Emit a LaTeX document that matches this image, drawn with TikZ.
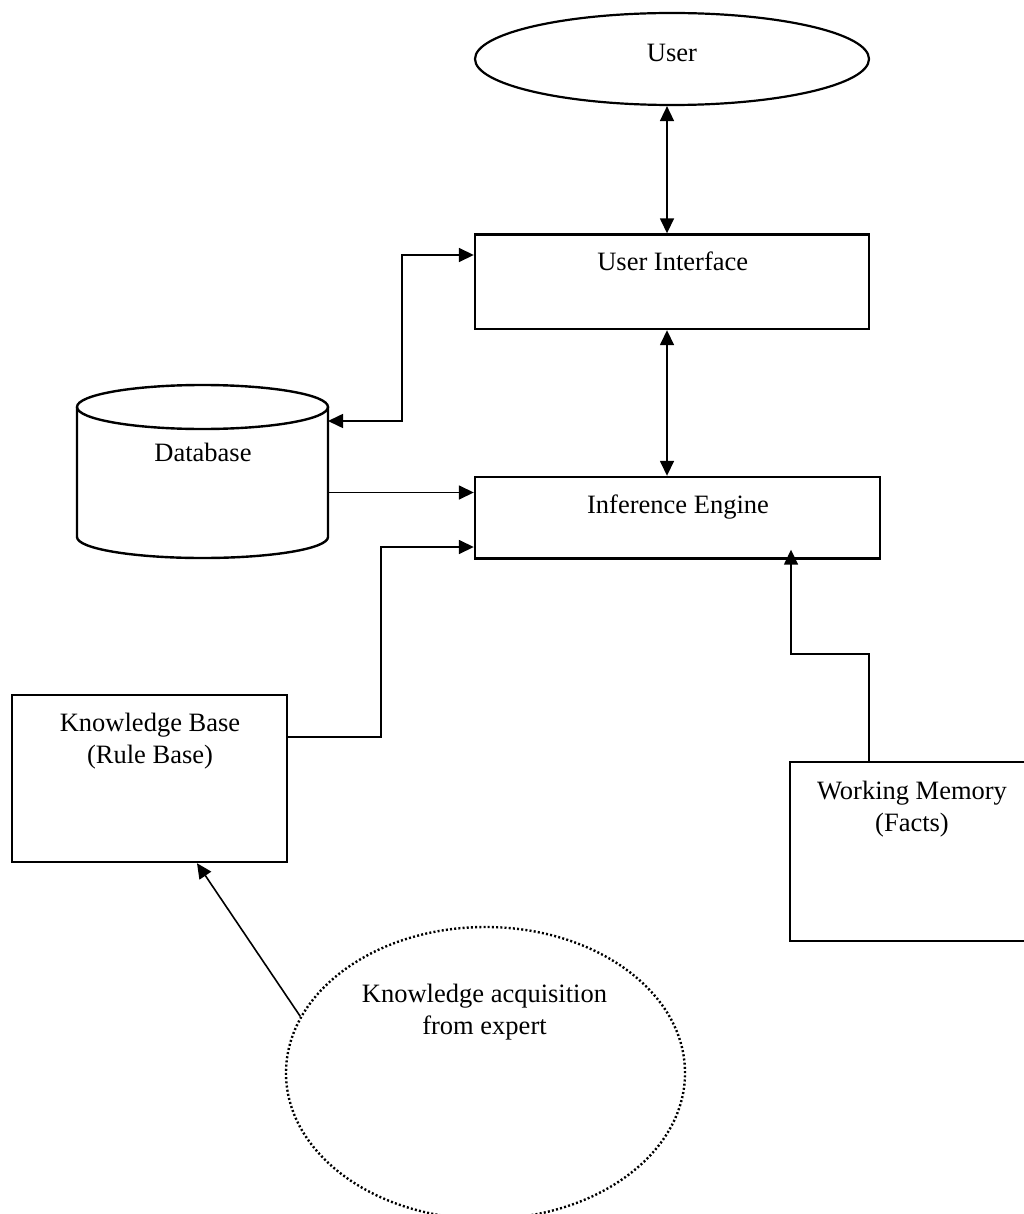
\documentclass[tikz,border=0pt]{standalone}
\usepackage{fontspec}
\setmainfont{Liberation Serif}
\usetikzlibrary{arrows.meta,shapes.geometric,calc}
\begin{document}
\begin{tikzpicture}[x=1pt,y=-1pt,
  boxline/.style={draw=black, line width=2.4pt},
  blk/.style={boxline, rectangle, inner sep=0pt},
  oval/.style={ellipse, inner sep=0pt, draw=black, line width=2.2pt},
  dotoval/.style={ellipse, inner sep=0pt, draw=black, line width=2.4pt, dash pattern=on 2pt off 2.2pt},
  lbl/.style={font=\fontsize{26.5}{32.5}\selectfont, inner sep=0pt, anchor=base},
  conn/.style={draw=black, line width=1.6pt},
  onearrow/.style={-{Triangle[length=15pt,width=14pt]}},
  twoarrow/.style={{Triangle[length=15pt,width=14pt]}-{Triangle[length=15pt,width=14pt]}},
]
\useasboundingbox (0,0) rectangle (1024,1214);
\clip (0,0) rectangle (1024,1214);

% shapes
\node[oval, minimum width=394pt, minimum height=92pt] (user) at (672,59) {};
\node[blk, minimum width=394pt, minimum height=94.5pt] (ui) at (672,281.75) {};
\node[blk, minimum width=405pt, minimum height=81.5pt] (ie) at (677.5,517.75) {};
\node[blk, minimum width=275pt, minimum height=167pt] (kb) at (149.5,778.5) {};
\node[blk, minimum width=250pt, minimum height=179pt] (wm) at (915,851.5) {};
\node[dotoval, minimum width=399pt, minimum height=292pt] (ka) at (485.5,1073) {};
\node[minimum width=251pt, minimum height=173pt, inner sep=0pt, outer sep=0pt] (db) at (202.5,471.5) {};
\draw[boxline] (77,407) -- (77,537) arc[start angle=180, end angle=360, x radius=125.5pt, y radius=21pt] -- (328,407);
\draw[boxline] (202.5,407) ellipse[x radius=125.5pt, y radius=22pt];

% labels
\node[lbl] (userT) at (672,62) {User};
\node[lbl] (uiT) at (672.7,271) {User Interface};
\node[lbl] (ieT) at (678,513) {Inference Engine};
\node[lbl] (dbT) at (203,461) {Database};
\node[lbl] (kbT) at (150,731) {\begin{tabular}[t]{@{}c@{}}Knowledge Base\\(Rule Base)\end{tabular}};
\node[lbl] (wmT) at (912,799) {\begin{tabular}[t]{@{}c@{}}Working Memory\\(Facts)\end{tabular}};
\node[lbl] (kaT) at (484.5,1002) {\begin{tabular}[t]{@{}c@{}}Knowledge acquisition\\from expert\end{tabular}};

% helper coordinates
\coordinate (cx) at (667,0);
\coordinate (y255) at (0,255);
\coordinate (y421) at (0,421);
\coordinate (bendA) at (402,421);
\coordinate (bendB) at (402,255);
\coordinate (y493) at (0,492.5);
\coordinate (y547) at (0,547);
\coordinate (y737) at (0,737);
\coordinate (bendC) at (381,737);
\coordinate (bendD) at (381,547);
\coordinate (x869) at (869,0);
\coordinate (bendE) at (869,654);
\coordinate (bendF) at (791,654);
\coordinate (x791) at (791,0);
\coordinate (x197) at (197,0);

% connectors
\draw[conn,twoarrow] (user.south -| cx) -- (ui.north -| cx);
\draw[conn,twoarrow] (ui.south -| cx) -- (ie.north -| cx);
\draw[conn,twoarrow] (db.east |- y421) -- (bendA) -- (bendB) -- (ui.west |- y255);
\draw[conn,onearrow] (db.east |- y493) -- (ie.west |- y493);
\draw[conn,onearrow] (kb.east |- y737) -- (bendC) -- (bendD) -- (ie.west |- y547);
\draw[conn,onearrow] (wm.north -| x869) -- (bendE) -- (bendF) -- ($(ie.south -| x791)+(0,-10)$);
\draw[conn,onearrow] (ka.163.5) -- (kb.south -| x197);
\end{tikzpicture}
\end{document}
